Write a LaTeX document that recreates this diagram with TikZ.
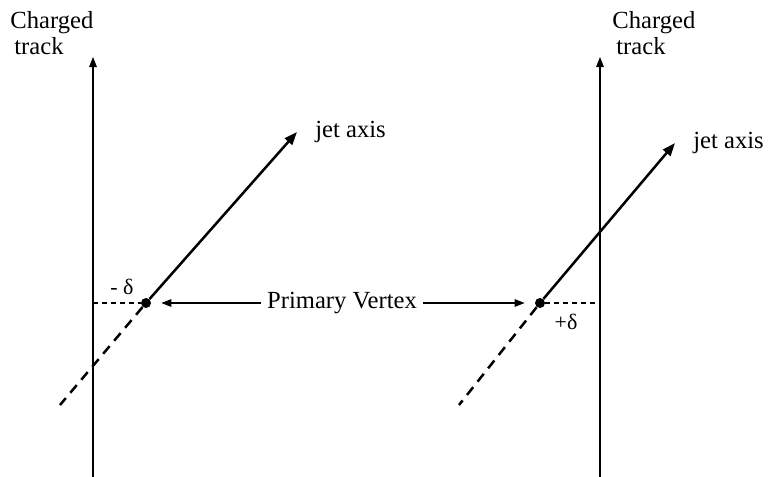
\documentclass[tikz,border=0pt]{standalone}
\usepackage{fontspec}
\setmainfont{Liberation Serif}
\usetikzlibrary{arrows.meta,positioning}
\tikzset{
  track/.style={draw=black,line width=0.55pt,-{Triangle[length=5pt,width=3.8pt]}},
  jet/.style={draw=black,line width=1.25pt,-{Triangle[length=6.5pt,width=4.8pt]}},
  jetback/.style={draw=black,line width=1.25pt,dash pattern=on 5pt off 3.5pt},
  impact/.style={draw=black,line width=0.55pt,dash pattern=on 2.5pt off 2pt},
  pointer/.style={-{Triangle[length=5pt,width=3.8pt]},draw=black,line width=0.55pt,shorten >=5pt},
  vertex/.style={circle,fill=black,inner sep=0pt,minimum size=5pt},
  labelstyle/.style={font=\fontsize{12.3}{14}\selectfont,inner sep=1pt,align=left},
  signstyle/.style={font=\fontsize{11}{13}\selectfont,inner sep=1pt}
}
\begin{document}
\begin{tikzpicture}[x=0.5pt,y=-0.5pt]
  \useasboundingbox (0,0) rectangle (768,477);
  % left: track passes left of the vertex
  \coordinate (tLb) at (93,477);
  \coordinate (tLt) at (93,57);
  \coordinate (hL) at (93,303);
  \coordinate (jLt) at (297,132);
  \coordinate (jLb) at (60,405);
  \node[vertex] (vL) at (146,303) {};
  \node[labelstyle,anchor=north west] (cL) at (8,9) {Charged\\[-1pt]\hspace{2pt}track};
  \node[labelstyle,anchor=west,right=8pt of jLt] (jL) {jet axis};
  \node[signstyle] (dL) at (122,287) {- δ};
  % right: track passes right of the vertex
  \coordinate (tRb) at (600,477);
  \coordinate (tRt) at (600,57);
  \coordinate (hR) at (600,303);
  \coordinate (jRt) at (675,143);
  \coordinate (jRb) at (459,405);
  \node[vertex] (vR) at (540,303) {};
  \node[labelstyle,anchor=north west] (cR) at (610,9) {Charged\\[-1pt]\hspace{2pt}track};
  \node[labelstyle,anchor=west,right=8pt of jRt] (jR) {jet axis};
  \node[signstyle] (dR) at (566,322) {+δ};
  % middle label
  \node[labelstyle,inner sep=3pt] (pv) at (342,303) {Primary Vertex};
  \draw[track] (tLb) -- (tLt);
  \draw[track] (tRb) -- (tRt);
  \draw[jet] (vL) -- (jLt);
  \draw[jet] (vR) -- (jRt);
  \draw[jetback] (vL) -- (jLb);
  \draw[jetback] (vR) -- (jRb);
  \draw[impact] (hL) -- (vL);
  \draw[impact] (vR) -- (hR);
  \draw[pointer] (pv) -- (vL);
  \draw[pointer] (pv) -- (vR);
\end{tikzpicture}
\end{document}
